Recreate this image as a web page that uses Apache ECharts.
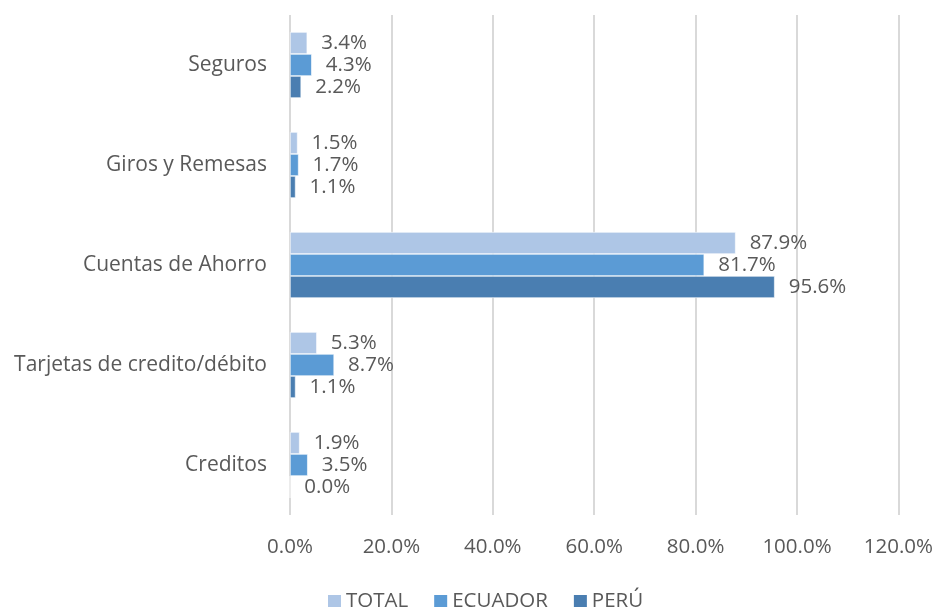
<!DOCTYPE html>
<html>
<head>
<meta charset="utf-8">
<script src="https://cdn.jsdelivr.net/npm/echarts@6/dist/echarts.min.js"></script>
<style>
html,body{margin:0;padding:0;background:#fff;}
#chart{width:936px;height:607px;}
</style>
</head>
<body>
<div id="chart"></div>
<script>
const categories = ['Creditos', 'Tarjetas de credito/débito', 'Cuentas de Ahorro', 'Giros y Remesas', 'Seguros'];
const seriesNames = ['TOTAL', 'ECUADOR', 'PERÚ'];
const totalValues = [1.9, 5.3, 87.9, 1.5, 3.4];
const ecuadorValues = [3.5, 8.7, 81.7, 1.7, 4.3];
const peruValues = [0.0, 1.1, 95.6, 1.1, 2.2];
const xTicks = [0, 20, 40, 60, 80, 100, 120];

const colors = ['#aec6e6', '#5b9bd5', '#4a7eb1'];
const font = '"Open Sans", "Noto Sans", sans-serif';
const textColor = '#595959';

const chart = echarts.init(document.getElementById('chart'), null, {renderer: 'canvas'});

function mk(name, data, color) {
  return {
    name: name,
    type: 'bar',
    data: data,
    barGap: '0%',
    barCategoryGap: '34%',
    itemStyle: {color: color, borderColor: '#ffffff', borderWidth: 0.6},
    label: {
      show: true,
      position: 'right',
      distance: 14,
      fontFamily: font,
      fontSize: 20.5,
      color: textColor,
      formatter: p => p.value.toFixed(1) + '%'
    },
    emphasis: {disabled: true},
    animation: false
  };
}

chart.setOption({
  animation: false,
  color: colors,
  grid: {left: 290, right: 37, top: 15, bottom: 92, containLabel: false},
  legend: {
    data: seriesNames,
    left: 321,
    top: 586,
    itemWidth: 15,
    itemHeight: 15,
    itemGap: 24,
    icon: 'rect',
    textStyle: {fontFamily: font, fontSize: 20.5, color: textColor, padding: [0, 0, 0, -1]}
  },
  xAxis: {
    type: 'value',
    min: xTicks[0],
    max: xTicks[xTicks.length - 1],
    interval: 20,
    axisLine: {show: false},
    axisTick: {show: false},
    splitLine: {show: true, lineStyle: {color: '#d9d9d9', width: 2}},
    axisLabel: {
      margin: 22,
      fontFamily: font,
      fontSize: 20.5,
      color: textColor,
      formatter: v => v.toFixed(1) + '%'
    }
  },
  yAxis: {
    type: 'category',
    data: categories,
    axisLine: {show: false},
    axisTick: {show: false},
    axisLabel: {margin: 23, fontFamily: font, fontSize: 21, color: textColor}
  },
  series: [
    mk(seriesNames[0], totalValues, colors[0]),
    mk(seriesNames[1], ecuadorValues, colors[1]),
    mk(seriesNames[2], peruValues, colors[2])
  ]
});
</script>
</body>
</html>
